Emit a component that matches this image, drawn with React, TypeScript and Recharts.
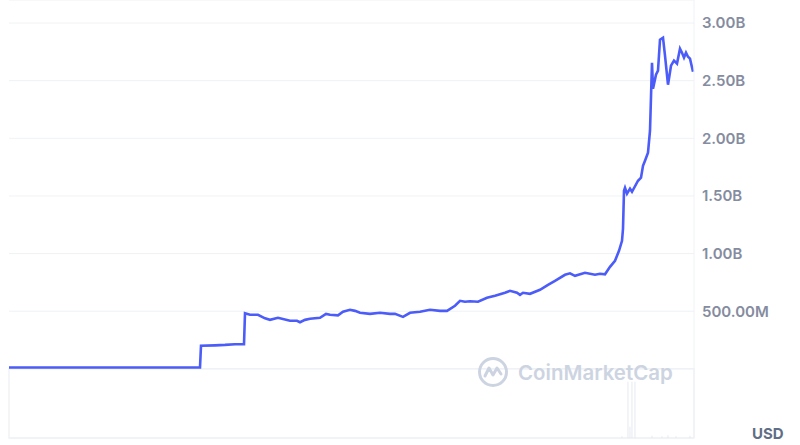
import {
  ComposedChart,
  Line,
  Bar,
  XAxis,
  YAxis,
  CartesianGrid,
  ReferenceArea,
} from 'recharts';

// day index from the start of the visible range
const days = [
  0, 191, 192, 206, 216, 226, 235, 236, 241, 249, 256, 261, 269, 281, 288, 291,
  296, 301, 311, 317, 321, 329, 334, 341, 346, 351, 361, 371, 381, 386, 394,
  401, 411, 421, 431, 438, 446, 451, 456, 461, 469, 478, 486, 496, 501, 508,
  511, 514, 521, 531, 539, 546, 556, 561, 566, 576, 586, 591, 596, 601, 606,
  610, 613, 614, 615, 616, 618, 621, 623, 629, 632, 634, 636, 639, 641, 643,
  644, 647, 649, 651, 654, 656, 659, 662, 665, 668, 671, 673, 675, 677, 679,
  681, 684,
];

// market cap, billions USD
const marketCap = [
  0.012, 0.012, 0.2, 0.204, 0.208, 0.214, 0.214, 0.483, 0.469, 0.469, 0.438,
  0.425, 0.443, 0.417, 0.417, 0.404, 0.425, 0.434, 0.443, 0.477, 0.469, 0.464,
  0.495, 0.512, 0.503, 0.486, 0.477, 0.486, 0.477, 0.477, 0.451, 0.486, 0.495,
  0.512, 0.503, 0.503, 0.547, 0.59, 0.582, 0.586, 0.582, 0.616, 0.634, 0.66,
  0.677, 0.66, 0.642, 0.66, 0.651, 0.686, 0.729, 0.764, 0.816, 0.829, 0.807,
  0.833, 0.816, 0.825, 0.82, 0.885, 0.938, 1.024, 1.111, 1.215, 1.545, 1.571,
  1.519, 1.563, 1.536, 1.632, 1.658, 1.762, 1.806, 1.875, 2.066, 2.656, 2.431,
  2.552, 2.587, 2.856, 2.873, 2.717, 2.465, 2.63, 2.674, 2.648, 2.778, 2.743,
  2.7, 2.743, 2.708, 2.691, 2.578,
];

const volumeDays = [613, 619, 621, 623, 626, 643, 653, 659, 667, 681];
const volume = [3, 100, 20, 100, 100, 4, 3, 5, 3, 4];

const priceTicks = [0, 0.5, 1, 1.5, 2, 2.5, 3];

const formatTick = (v: number) => {
  if (v === 0) return '';
  if (v < 1) return `${(v * 1000).toFixed(2)}M`;
  return `${v.toFixed(2)}B`;
};

const table = (() => {
  const map = new Map<number, { day: number; cap?: number; vol?: number }>();
  days.forEach((d, i) => map.set(d, { day: d, cap: marketCap[i] }));
  volumeDays.forEach((d, i) => {
    const row = map.get(d) || { day: d };
    row.vol = volume[i];
    map.set(d, row);
  });
  return Array.from(map.values()).sort((a, b) => a.day - b.day);
})();

function Watermark() {
  return (
    <div
      style={{
        position: 'absolute',
        left: 477,
        top: 356,
        display: 'flex',
        alignItems: 'center',
        color: '#cdd4e1',
        fontFamily: 'Inter, sans-serif',
        fontWeight: 600,
        fontSize: 20.5,
        pointerEvents: 'none',
      }}
    >
      <svg width={32} height={32} viewBox="0 0 32 32">
        <circle cx={16} cy={16} r={13.5} fill="none" stroke="#cdd4e1" strokeWidth={3} />
        <path
          d="M8 20 L12 12 L16 19 L20 12 L24 18"
          fill="none"
          stroke="#cdd4e1"
          strokeWidth={3}
          strokeLinejoin="round"
          strokeLinecap="round"
        />
      </svg>
      <span style={{ marginLeft: 9 }}>CoinMarketCap</span>
    </div>
  );
}

export default function App() {
  return (
    <div style={{ position: 'absolute', left: 0, top: 0, width: 800, height: 445, background: '#fff' }}>
      <ComposedChart
        width={800}
        height={445}
        data={table}
        margin={{ top: 0, right: 0, bottom: 7, left: 9 }}
      >
        <XAxis dataKey="day" type="number" domain={[0, 685]} hide />
        <YAxis
          yAxisId="price"
          orientation="right"
          domain={[-0.6, 3.2]}
          ticks={priceTicks}
          tickFormatter={formatTick}
          width={106}
          tickLine={false}
          tickMargin={2}
          axisLine={{ stroke: '#eff2f5' }}
          tick={{ fill: '#858ca0', fontSize: 15, fontFamily: 'Inter, sans-serif', fontWeight: 600, textAnchor: 'start' }}
          allowDataOverflow
        />
        <YAxis yAxisId="vol" domain={[0, 780]} hide />
        <CartesianGrid yAxisId="price" vertical={false} stroke="#eff2f5" />
        <ReferenceArea
          yAxisId="price"
          x1={0}
          x2={685}
          y1={-0.6}
          y2={0}
          fill="none"
          stroke="#eff2f5"
          strokeWidth={1.5}
        />
        <Bar yAxisId="vol" dataKey="vol" fill="#e3e7ef" barSize={2} isAnimationActive={false} />
        <Line
          yAxisId="price"
          dataKey="cap"
          type="linear"
          stroke="#4b5cf8"
          strokeWidth={2.6}
          dot={false}
          connectNulls
          isAnimationActive={false}
        />
      </ComposedChart>
      <Watermark />
      <div
        style={{
          position: 'absolute',
          left: 752,
          top: 424,
          color: '#616e85',
          fontFamily: 'Inter, sans-serif',
          fontWeight: 700,
          fontSize: 15,
        }}
      >
        USD
      </div>
    </div>
  );
}
